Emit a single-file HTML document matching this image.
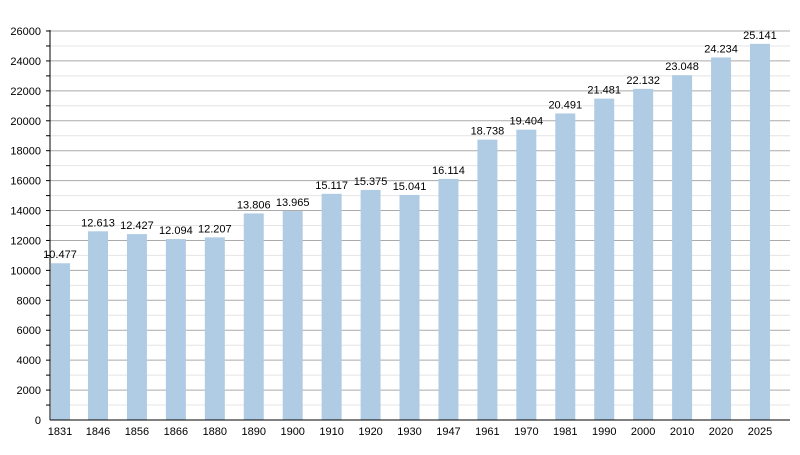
<!DOCTYPE html>
<html><head><style>body{margin:0;background:#fff}</style></head><body>
<svg width="800" height="450" xmlns="http://www.w3.org/2000/svg" font-family="Liberation Sans, sans-serif">
</svg>
<script>
const s=document.querySelector('svg');let h='';
const y0=420,k=389/26000;
for(let v=1000;v<=26000;v+=1000){const y=y0-v*k;const maj=v%2000==0;
h+=`<line x1="50" x2="790" y1="${y}" y2="${y}" stroke="${maj?'#aaa':'#e4e4e4'}" stroke-width="1"/>`;
h+=`<line x1="46" x2="50" y1="${y}" y2="${y}" stroke="#000"/>`;
if(maj)h+=`<text x="41" y="${y+4}" font-size="11" text-anchor="end">${v}</text>`;}
h+=`<text x="41" y="424" font-size="11" text-anchor="end">0</text>`;
const d=[[1831,10477],[1846,12613],[1856,12427],[1866,12094],[1880,12207],[1890,13806],[1900,13965],[1910,15117],[1920,15375],[1930,15041],[1947,16114],[1961,18738],[1970,19404],[1981,20491],[1990,21481],[2000,22132],[2010,23048],[2020,24234],[2025,25141]];
d.forEach((e,i)=>{let x=88+(i-1)*38.94;const y=y0-e[1]*k;let w=20;let cx=x+10;
if(i==0){x=51;w=19;cx=60;}
h+=`<rect x="${x}" y="${y}" width="${w}" height="${y0-y}" fill="#b0cce4"/>`;
h+=`<text x="${cx}" y="${y-5}" font-size="11" text-anchor="middle">${(e[1]/1000).toFixed(3)}</text>`;
h+=`<text x="${cx}" y="435" font-size="11" text-anchor="middle">${e[0]}</text>`;});
h+=`<line x1="50" x2="50" y1="30" y2="420" stroke="#000"/><line x1="50" x2="790" y1="420" y2="420" stroke="#000"/>`;
s.innerHTML=h;
</script>
</body></html>
